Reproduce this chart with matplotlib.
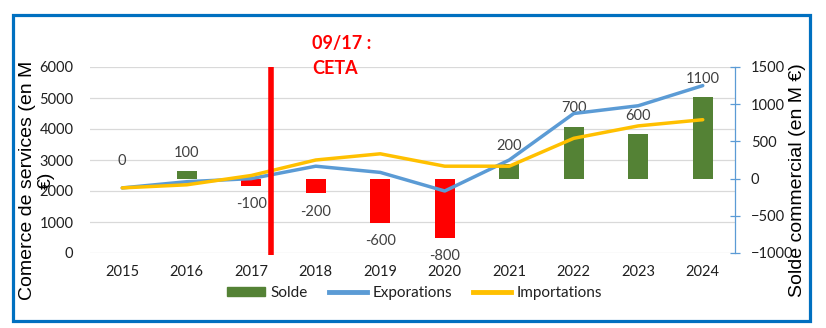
import matplotlib
matplotlib.use('Agg')
import matplotlib.pyplot as plt
from matplotlib.patches import Rectangle, Patch
from matplotlib.lines import Line2D

# ---- data ----
years = ['2015', '2016', '2017', '2018', '2019', '2020', '2021', '2022', '2023', '2024']
solde = [0, 100, -100, -200, -600, -800, 200, 700, 600, 1100]
exportations = [2100, 2300, 2400, 2800, 2600, 2000, 3000, 4500, 4750, 5400]
importations = [2100, 2200, 2500, 3000, 3200, 2800, 2800, 3700, 4100, 4300]
left_ticks = [0, 1000, 2000, 3000, 4000, 5000, 6000]
right_ticks = [-1000, -500, 0, 500, 1000, 1500]
ceta_position = 2.3          # category position of Sept. 2017
ceta_span = [-60, 6000]
ceta_lines = ['09/17 :', 'CETA']
series_names = ['Solde', 'Exporations', 'Importations']

GREEN = '#548235'
RED = '#FF0000'
BLUE = '#5B9BD5'
YELLOW = '#FFC000'
TXT = '#404040'
TICK = '#1F1F1F'

plt.rcParams['font.family'] = ['Lato', 'DejaVu Sans']

W, H = 826, 328
fig = plt.figure(figsize=(W / 100, H / 100), dpi=100)
ax = fig.add_axes([90 / W, 1 - 253 / H, 645 / W, 186 / H])
ax2 = ax.twinx()   # bars (right scale)
ax3 = ax.twinx()   # lines (left scale)

x = list(range(len(years)))

# grid & left axis
ax.set_xlim(-0.5, len(years) - 0.5)
ax.set_ylim(0, 6000)
ax.set_yticks(left_ticks)
ax.grid(axis='y', color='#D9D9D9', lw=0.9)
ax.set_axisbelow(True)
ax.set_xticks(x)
ax.set_xticklabels(years)
ax.tick_params(axis='both', length=0, labelsize=10.5, colors=TICK)
ax.tick_params(axis='x', pad=9)
ax.tick_params(axis='y', pad=12)
for s in ax.spines.values():
    s.set_visible(False)

# bars on right axis
ax2.set_ylim(-1000, 1500)
ax2.set_yticks(right_ticks)
colors = [GREEN if v >= 0 else RED for v in solde]
ax2.bar(x, solde, width=0.31, color=colors, zorder=2)
for xi, v in zip(x, solde):
    off = 13 if v >= 0 else -13
    ax2.annotate(f'{v}', (xi, v), xytext=(0, off), textcoords='offset points',
                 ha='center', va='center', fontsize=10.5, color=TXT)
for k in ['left', 'top', 'bottom']:
    ax2.spines[k].set_visible(False)
ax2.spines['right'].set_color(BLUE)
ax2.spines['right'].set_linewidth(0.9)
ax2.tick_params(axis='y', direction='inout', length=7, width=0.9, color=BLUE,
                labelcolor=TICK, labelsize=10.5, pad=8)

# lines on third axis, left scale
ax3.set_ylim(0, 6000)
ax3.plot(x, exportations, color=BLUE, lw=2.5, solid_capstyle='round')
ax3.plot(x, importations, color=YELLOW, lw=2.5, solid_capstyle='round')
ax3.vlines(ceta_position, ceta_span[0], ceta_span[1], color=RED, lw=4, clip_on=False, zorder=5)
ax3.yaxis.set_visible(False)
for s in ax3.spines.values():
    s.set_visible(False)

# CETA annotation
fig.text(312 / W, 1 - 49 / H, ceta_lines[0], color=RED, fontsize=13, fontweight='bold',
         ha='left', va='baseline')
fig.text(312 / W, 1 - 74 / H, ceta_lines[1], color=RED, fontsize=13, fontweight='bold',
         ha='left', va='baseline')

# legend
handles = [Patch(color=GREEN), Line2D([], [], color=BLUE, lw=3.5),
           Line2D([], [], color=YELLOW, lw=3.5)]
ax3.legend(handles, series_names, loc='center', bbox_to_anchor=(0.503, -0.213), ncol=3,
           frameon=False, fontsize=11, handlelength=2.5, handleheight=0.55, handletextpad=0.35,
           columnspacing=1.4, labelcolor=TICK)

# axis titles
fig.text(37 / W, 1 - 180 / H, 'Comerce de services (en M\n€)', rotation=90,
         ha='center', va='center', multialignment='center', fontsize=14,
         family=['Liberation Sans', 'DejaVu Sans'], linespacing=1.1, color='black')
fig.text(797 / W, 1 - 180 / H, 'Solde commercial (en M €)', rotation=90,
         ha='center', va='center', fontsize=14,
         family=['Liberation Sans', 'DejaVu Sans'], color='black')

# blue frame
fig.add_artist(Rectangle((13 / W, 1 - 321 / H), (810 - 13) / W, (321 - 15) / H,
                         transform=fig.transFigure, fill=False, edgecolor='#0070C0', lw=2.3))

fig.savefig('out.png', dpi=100)
